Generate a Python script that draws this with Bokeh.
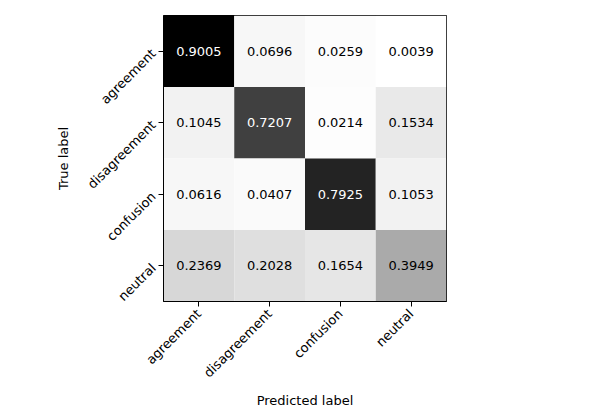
import math
from bokeh.plotting import figure
from bokeh.models import ColumnDataSource, FactorRange, LinearColorMapper
from bokeh.transform import transform
from bokeh.palettes import Greys9
from bokeh.embed import file_html
from bokeh.resources import INLINE
from bokeh.core.properties import value

labels = ["agreement", "disagreement", "confusion", "neutral"]
matrix = [
    [0.9005, 0.0696, 0.0259, 0.0039],
    [0.1045, 0.7207, 0.0214, 0.1534],
    [0.0616, 0.0407, 0.7925, 0.1053],
    [0.2369, 0.2028, 0.1654, 0.3949],
]

# build a smooth Greys palette (white -> black) from ColorBrewer Greys9
base = [tuple(int(c[i:i + 2], 16) for i in (1, 3, 5)) for c in Greys9[::-1]]
palette = []
n = 256
for k in range(n):
    t = k / (n - 1) * (len(base) - 1)
    i = min(int(t), len(base) - 2)
    f = t - i
    rgb = [round(base[i][j] + (base[i + 1][j] - base[i][j]) * f) for j in range(3)]
    palette.append("#%02x%02x%02x" % tuple(rgb))

xs, ys, vals, txt, tcol = [], [], [], [], []
vmax = max(max(r) for r in matrix)
vmin = min(min(r) for r in matrix)
for r, true_lab in enumerate(labels):
    for c, pred_lab in enumerate(labels):
        v = matrix[r][c]
        xs.append(pred_lab)
        ys.append(true_lab)
        vals.append(v)
        txt.append("%.4f" % v)
        tcol.append("white" if v > vmax / 2 else "black")

src = ColumnDataSource(dict(x=xs, y=ys, v=vals, t=txt, tc=tcol))
mapper = LinearColorMapper(palette=palette, low=vmin, high=vmax)

p = figure(width=600, height=410, output_backend="svg", toolbar_location=None,
           x_range=FactorRange(factors=labels, range_padding=0),
           y_range=FactorRange(factors=labels[::-1], range_padding=0),
           min_border_left=163, min_border_right=154, min_border_top=15,
           min_border_bottom=100)

p.rect(x="x", y="y", width=1, height=1, source=src,
       fill_color=transform("v", mapper), line_color=None)
p.text(x="x", y="y", text="t", source=src, text_color="tc",
       text_align="center", text_baseline="middle",
       text_font=value("DejaVu Sans"), text_font_size="13px")

p.xgrid.visible = False
p.ygrid.visible = False
p.outline_line_color = "black"
p.outline_line_width = 1

for ax in (p.xaxis[0], p.yaxis[0]):
    ax.axis_line_color = "black"
    ax.major_tick_line_color = "black"
    ax.major_tick_out = 5
    ax.major_tick_in = 0
    ax.minor_tick_line_color = None
    ax.major_label_text_font = "DejaVu Sans"
    ax.major_label_text_font_size = "13px"
    ax.major_label_text_color = "black"
    ax.axis_label_text_font = "DejaVu Sans"
    ax.axis_label_text_font_size = "13px"
    ax.axis_label_text_font_style = "normal"
    ax.axis_label_text_color = "black"
    ax.major_label_orientation = math.pi / 4

p.xaxis[0].major_label_standoff = 5
p.xaxis[0].axis_label_standoff = 4

p.xaxis.axis_label = "Predicted label"
p.yaxis.axis_label = "True label"

open("out.html", "w").write(file_html(p, INLINE))
